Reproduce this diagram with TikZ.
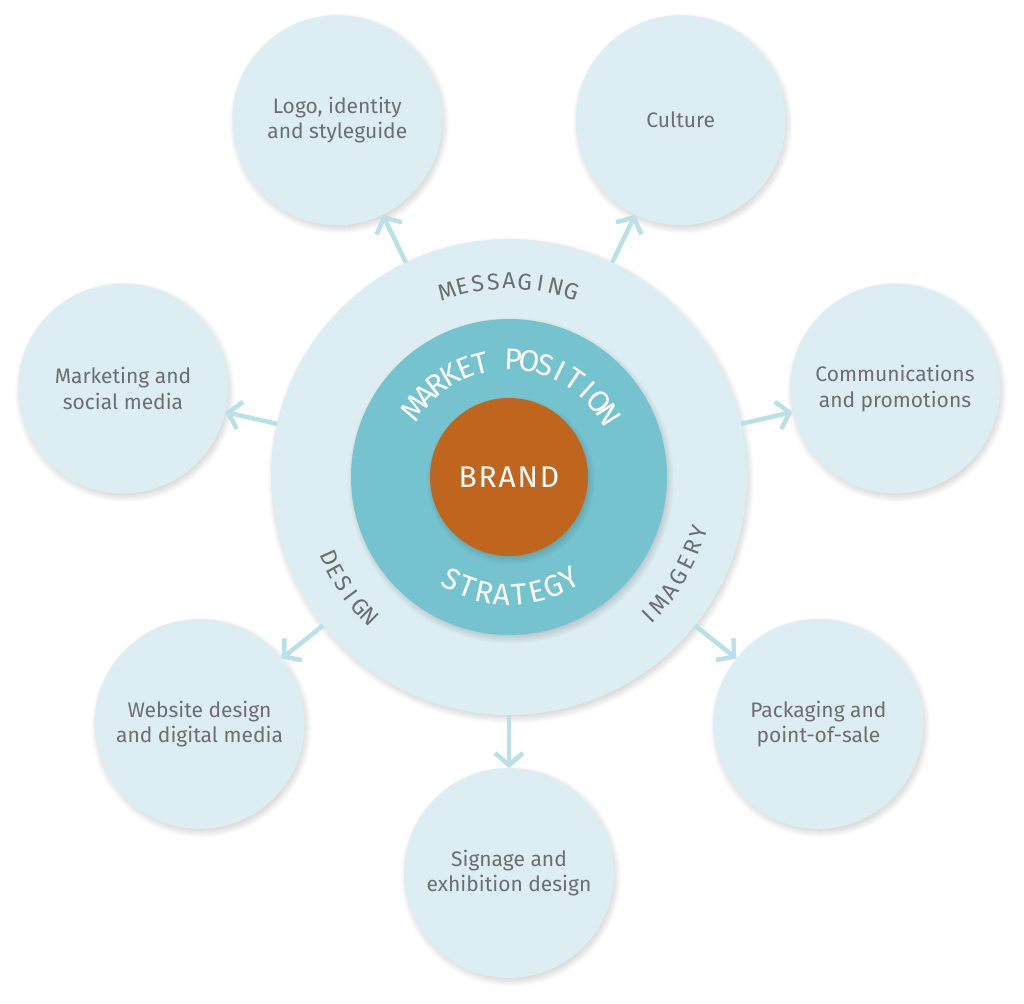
\documentclass[tikz,border=0pt]{standalone}
\usepackage{fontspec}
\setmainfont{Fira Sans}
\usetikzlibrary{arrows.meta}
\definecolor{pale}{HTML}{DCEEF2}
\definecolor{tealc}{HTML}{76C3D0}
\definecolor{brandc}{HTML}{BF651E}
\definecolor{txtgray}{HTML}{6D6E71}
\definecolor{arrowc}{HTML}{B8E1E8}
\newlength\arcw
% \arcword{prefix}{radius}{first angle}{last angle}{dir}{font}{letters}
\newcommand\arcword[7]{%
  \xdef\arcsum{0}\xdef\arccount{0}%
  \foreach \l in {#7}{%
    \settowidth\arcw{#6\l}%
    \pgfmathsetmacro\tmp{\arcsum+\arcw}\xdef\arcsum{\tmp}%
    \pgfmathtruncatemacro\tmp{\arccount+1}\xdef\arccount{\tmp}%
    \ifnum\arccount=1 \xdef\arcfirst{\the\arcw}\fi
    \xdef\arclast{\the\arcw}%
  }%
  \pgfmathsetmacro\tmp{(abs(#4-#3)*pi/180*#2 - (\arcsum - \arcfirst/2 - \arclast/2))/(\arccount-1)}%
  \xdef\arctrack{\tmp}%
  \xdef\arcedge{0}%
  \foreach \l [count=\i] in {#7}{%
    \settowidth\arcw{#6\l}%
    \pgfmathsetmacro\arcang{#3 - (#5)*(\arcedge + \arcw/2 - \arcfirst/2)/#2*180/pi}%
    \pgfmathsetmacro\arcrot{\arcang - (#5)*90}%
    \node[name=#1-\i, rotate=\arcrot, anchor=base, inner sep=0pt, outer sep=0pt] at (\arcang:#2) {#6\l};
    \pgfmathsetmacro\tmp{\arcedge+\arcw+\arctrack}\xdef\arcedge{\tmp}%
  }%
}
\newcommand\softshadow[2]{%
  \foreach \k in {0,...,9}{%
    \fill[black, opacity=0.016, shift={(#1)}] (2,-3.5) circle ({#2+5-\k});
  }%
}
\tikzset{
  outer/.style={circle, fill=pale, minimum size=210pt, inner sep=0pt, outer sep=0pt,
    align=center, text=txtgray, font=\fontsize{21}{25.5}\selectfont},
  arr/.style={draw=arrowc, line width=4.5pt,
    -{Straight Barb[length=12pt, width=28pt, line width=4.5pt]}},
}
\begin{document}
\begin{tikzpicture}[x=1pt, y=1pt]
\useasboundingbox[fill=white] (-509,-526) rectangle (515,477);
% shadows
\softshadow{0,0}{238}
\foreach \a in {115.7,64.3,12.9,-38.6,-90,-141.4,167.1}{
  \softshadow{\a:396}{105}
}
% main rings
\node[circle, fill=pale, minimum size=476pt, inner sep=0pt, outer sep=0pt] (ring) at (0,0) {};
\softshadow{0,0}{158}
\node[circle, fill=tealc, minimum size=316pt, inner sep=0pt, outer sep=0pt] (mid) at (0,0) {};
\softshadow{0,0}{79}
\node[circle, fill=brandc, minimum size=158pt, inner sep=0pt, outer sep=0pt, text=white,
  font=\fontsize{30}{30}\selectfont\addfontfeature{LetterSpace=6}] (brand) at (0,0) {BRAND};
% outer circles
\node[outer] (logo) at (115.7:396) {Logo, identity\\and styleguide};
\node[outer] (culture) at (64.3:396) {Culture};
\node[outer] (comm) at (12.9:396) {Communications\\and promotions};
\node[outer] (pack) at (-38.6:396) {Packaging and\\point-of-sale};
\node[outer] (sign) at (-90:396) {Signage and\\exhibition design};
\node[outer] (web) at (-141.4:396) {Website design\\and digital media};
\node[outer] (mkt) at (167.1:396) {Marketing and\\social media};
% arrows
\foreach \t in {logo,culture,comm,pack,sign,web,mkt}{
  \draw[arr] (ring) -- (\t);
}
% curved labels
\arcword{msg}{188}{108.5}{71.5}{1}{\color{txtgray}\fontsize{23}{23}\selectfont}{M,E,S,S,A,G,I,N,G}
\arcword{des}{205}{204.3}{225.2}{-1}{\color{txtgray}\fontsize{23}{23}\selectfont}{D,E,S,I,G,N}
\arcword{img}{205}{315}{343.8}{-1}{\color{txtgray}\fontsize{23}{23}\selectfont}{I,M,A,G,E,R,Y}
\arcword{mp}{107}{144}{32}{1}{\color{white}\fontsize{30}{30}\selectfont}{M,A,R,K,E,T,~,P,O,S,I,T,I,O,N}
\arcword{str}{128}{240.7}{300.6}{-1}{\color{white}\fontsize{30}{30}\selectfont}{S,T,R,A,T,E,G,Y}
\end{tikzpicture}
\end{document}
